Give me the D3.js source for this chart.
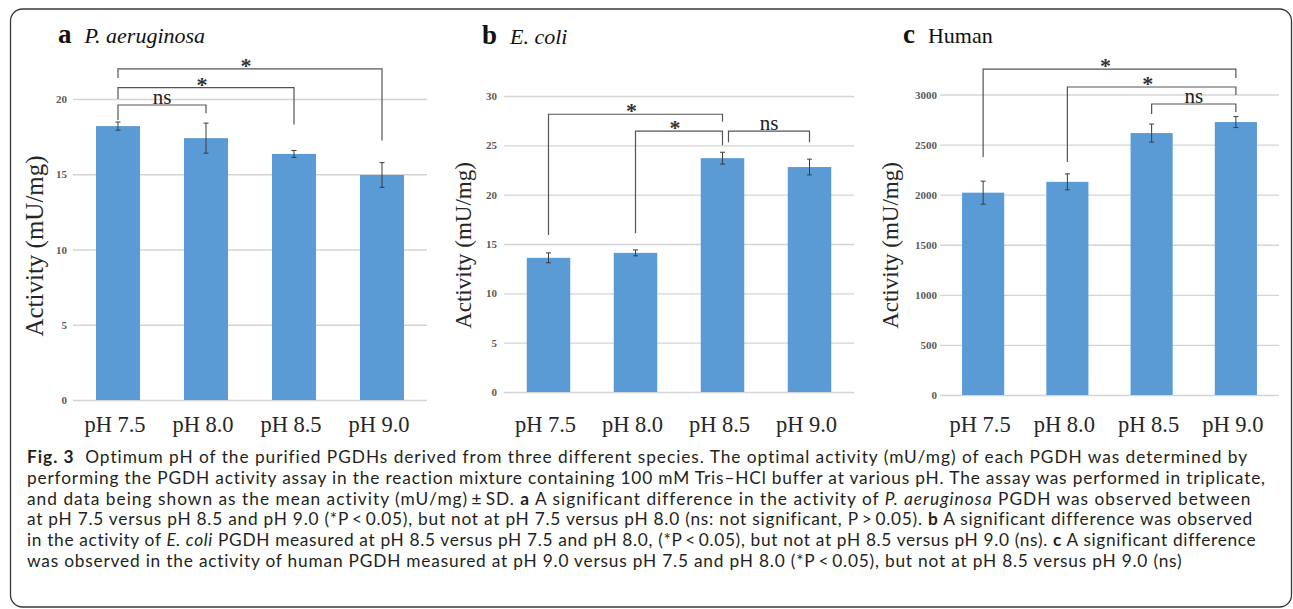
<!DOCTYPE html>
<html>
<head>
<meta charset="utf-8">
<script src="https://cdn.jsdelivr.net/npm/d3@7"></script>
<style>
  html, body { margin: 0; padding: 0; background: #fff; }
  svg { display: block; }
</style>
</head>
<body>
<svg id="fig" width="1293" height="609"></svg>
<script>
// ---- data ----
const categories = ["pH 7.5", "pH 8.0", "pH 8.5", "pH 9.0"];

// P. aeruginosa PGDH activity (mU/mg), mean and SD
const aeruginosaActivity = [18.2, 17.4, 16.35, 14.95];
const aeruginosaSD = [0.27, 1.0, 0.23, 0.82];
const aeruginosaTicks = [0, 5, 10, 15, 20];
// significance brackets: [from, to, bracket level, left leg end, right leg end, label]
const aeruginosaBrackets = [
  [0, 1, 19.6, 18.6, 19.05, "ns"],
  [0, 2, 20.75, 20.0, 18.3, "*"],
  [0, 3, 22.0, 21.4, 17.25, "*"]
];

// E. coli PGDH activity (mU/mg)
const coliActivity = [13.6, 14.1, 23.7, 22.8];
const coliSD = [0.5, 0.3, 0.6, 0.8];
const coliTicks = [0, 5, 10, 15, 20, 25, 30];
const coliBrackets = [
  [0, 2, 28.15, 15.9, 27.4, "*"],
  [1, 2, 26.45, 16.1, 25.0, "*"],
  [2, 3, 26.45, 25.3, 25.3, "ns"]
];

// Human PGDH activity (mU/mg)
const humanActivity = [2020, 2128, 2615, 2725];
const humanSD = [115, 80, 90, 55];
const humanTicks = [0, 500, 1000, 1500, 2000, 2500, 3000];
const humanBrackets = [
  [0, 3, 3254, 2376, 3165, "*"],
  [1, 3, 3075, 2326, 2995, "*"],
  [2, 3, 2905, 2805, 2825, "ns"]
];

const captionLines = [
  [["b", "Fig. 3"], ["n", "  Optimum pH of the purified PGDHs derived from three different species. The optimal activity (mU/mg) of each PGDH was determined by"]],
  [["n", "performing the PGDH activity assay in the reaction mixture containing 100 mM Tris\u2013HCl buffer at various pH. The assay was performed in triplicate,"]],
  [["n", "and data being shown as the mean activity (mU/mg)\u2009\u00b1\u2009SD. "], ["b", "a"], ["n", " A significant difference in the activity of "], ["i", "P. aeruginosa"], ["n", " PGDH was observed between"]],
  [["n", "at pH 7.5 versus pH 8.5 and pH 9.0 (*P\u2009<\u20090.05), but not at pH 7.5 versus pH 8.0 (ns: not significant, P\u2009>\u20090.05). "], ["b", "b"], ["n", " A significant difference was observed"]],
  [["n", "in the activity of "], ["i", "E. coli"], ["n", " PGDH measured at pH 8.5 versus pH 7.5 and pH 8.0, (*P\u2009<\u20090.05), but not at pH 8.5 versus pH 9.0 (ns). "], ["b", "c"], ["n", " A significant difference"]],
  [["n", "was observed in the activity of human PGDH measured at pH 9.0 versus pH 7.5 and pH 8.0 (*P\u2009<\u20090.05), but not at pH 8.5 versus pH 9.0 (ns)"]]
];

// ---- drawing ----
const svg = d3.select("#fig");
const SERIF = "'Liberation Serif', 'Times New Roman', serif";
const SANS = "Lato, 'Open Sans', sans-serif";
const BAR = "#5b9bd5";

// outer frame
svg.append("rect")
  .attr("x", 10.5).attr("y", 9).attr("width", 1281).attr("height", 598)
  .attr("rx", 12).attr("ry", 12)
  .attr("fill", "none").attr("stroke", "#3a3a3a").attr("stroke-width", 1.3);

const panels = [
  { letter: "a", name: "P. aeruginosa", italic: true, values: aeruginosaActivity, sd: aeruginosaSD,
    ticks: aeruginosaTicks, brackets: aeruginosaBrackets,
    x0: 74, x1: 426, y0: 400, y1: 99, tickRight: 67, ylabX: 43, ylabSize: 25, ylabY: 246,
    titleX: 58, titleY: 43 },
  { letter: "b", name: "E. coli", italic: true, values: coliActivity, sd: coliSD,
    ticks: coliTicks, brackets: coliBrackets,
    x0: 505, x1: 853, y0: 392, y1: 96, tickRight: 497, ylabX: 471, ylabSize: 23, ylabY: 245.5,
    titleX: 482, titleY: 44 },
  { letter: "c", name: "Human", italic: false, values: humanActivity, sd: humanSD,
    ticks: humanTicks, brackets: humanBrackets,
    x0: 941, x1: 1278, y0: 395, y1: 94.5, tickRight: 937, ylabX: 898, ylabSize: 23, ylabY: 245.5,
    titleX: 903, titleY: 43 }
];

panels.forEach(p => {
  const g = svg.append("g");
  const x = d3.scaleBand().domain(categories).range([p.x0, p.x1])
    .paddingInner(0.5).paddingOuter(0.25);
  const yMax = p.ticks[p.ticks.length - 1];
  const y = d3.scaleLinear().domain([0, yMax]).range([p.y0, p.y1]);

  // gridlines + tick labels via a left axis
  const axis = d3.axisLeft(y).tickValues(p.ticks).tickFormat(d3.format("d"))
    .tickSize(-(p.x1 - p.x0 + 2)).tickPadding(0);
  const ag = g.append("g").attr("transform", `translate(${p.x0 - 1},0)`).call(axis);
  ag.select(".domain").remove();
  ag.selectAll(".tick line").attr("stroke", "#d4d4d4").attr("stroke-width", 1.3);
  ag.selectAll(".tick text")
    .attr("x", p.tickRight - (p.x0 - 1))
    .attr("text-anchor", "end")
    .attr("font-family", SERIF).attr("font-size", 11).attr("font-weight", "bold")
    .attr("fill", "#5a5a5a");

  // bars
  g.selectAll("rect.bar").data(p.values).join("rect").attr("class", "bar")
    .attr("x", (d, i) => x(categories[i]))
    .attr("width", x.bandwidth())
    .attr("y", d => y(d))
    .attr("height", d => y(0) - y(d))
    .attr("fill", BAR);

  // error bars
  const cx = i => x(categories[i]) + x.bandwidth() / 2;
  const eg = g.append("g").attr("stroke", "#3c3c3c").attr("stroke-width", 1);
  p.values.forEach((v, i) => {
    const hi = y(v + p.sd[i]), lo = y(v - p.sd[i]);
    eg.append("line").attr("x1", cx(i)).attr("x2", cx(i)).attr("y1", hi).attr("y2", lo);
    eg.append("line").attr("x1", cx(i) - 2.5).attr("x2", cx(i) + 2.5).attr("y1", hi).attr("y2", hi);
    eg.append("line").attr("x1", cx(i) - 2.5).attr("x2", cx(i) + 2.5).attr("y1", lo).attr("y2", lo);
  });

  // category labels
  g.selectAll("text.cat").data(categories).join("text").attr("class", "cat")
    .attr("x", d => x(d) + x.bandwidth() / 2 - 3)
    .attr("y", 432)
    .attr("text-anchor", "middle")
    .attr("font-family", SERIF).attr("font-size", 22.5)
    .attr("fill", "#262626")
    .text(d => d);

  // significance brackets
  const bg = g.append("g");
  p.brackets.forEach(b => {
    const [from, to, level, lEnd, rEnd, label] = b;
    // step off a bar centre already used as another bracket's right end
    const shared = p.brackets.some(o => o !== b && o[1] === from);
    const xl = cx(from) + (shared ? 6 : 0);
    const xr = cx(to);
    const yl = y(level);
    bg.append("path")
      .attr("d", `M${xl},${y(lEnd)}V${yl}H${xr}V${y(rEnd)}`)
      .attr("fill", "none").attr("stroke", "#555").attr("stroke-width", 1.2);
    const mid = (xl + xr) / 2;
    if (label === "*") {
      bg.append("text").attr("x", mid - 4).attr("y", yl + 4)
        .attr("text-anchor", "middle").attr("font-family", SERIF)
        .attr("font-size", 22).attr("font-weight", "bold").attr("fill", "#333")
        .text("*");
    } else {
      bg.append("text").attr("x", mid).attr("y", yl - 1.5)
        .attr("text-anchor", "middle").attr("font-family", SERIF)
        .attr("font-size", 21).attr("fill", "#222")
        .text(label);
    }
  });

  // y-axis title
  g.append("text")
    .attr("transform", `translate(${p.ylabX},${p.ylabY}) rotate(-90)`)
    .attr("text-anchor", "middle")
    .attr("font-family", SERIF).attr("font-size", p.ylabSize).attr("fill", "#262626")
    .text("Activity (mU/mg)");

  // panel title
  const t = g.append("text").attr("x", p.titleX).attr("y", p.titleY)
    .attr("font-family", SERIF).attr("fill", "#111");
  t.append("tspan").attr("font-weight", "bold").attr("font-size", 27).text(p.letter);
  t.append("tspan").attr("dx", 13).attr("font-size", 22)
    .attr("font-style", p.italic ? "italic" : "normal").text(p.name);
});

// caption: fixed size, each line spread to its measured right edge with letter spacing
const capLeft = 27;
const capRight = [1247, 1265, 1250, 1251, 1255, 1182];
const capSize = 17.3;
const capG = svg.append("g").attr("font-family", SANS).attr("fill", "#231f20");
captionLines.forEach((line, li) => {
  const t = capG.append("text").attr("x", capLeft).attr("y", 463 + li * 20.8)
    .attr("font-size", capSize).style("white-space", "pre");
  line.forEach(([kind, str]) => {
    const s = t.append("tspan").text(str);
    if (kind === "b") s.attr("font-weight", "bold");
    if (kind === "i") s.attr("font-style", "italic");
  });
  const natural = t.node().getComputedTextLength();
  const n = t.text().length;
  const ls = ((capRight[li] - capLeft) - natural) / Math.max(1, n - 1);
  t.attr("letter-spacing", ls.toFixed(3));
});
</script>
</body>
</html>
